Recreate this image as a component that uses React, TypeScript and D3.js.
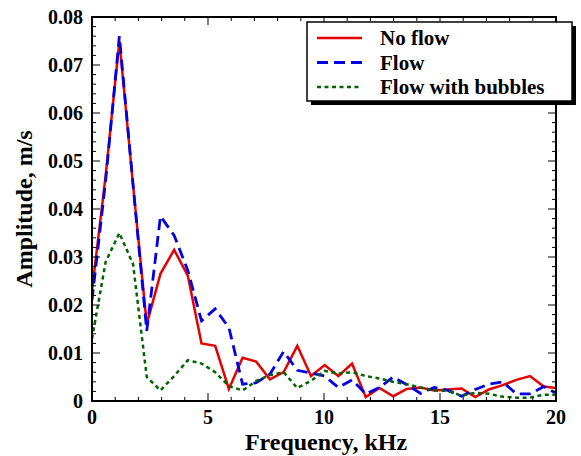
import React from "react";
import * as d3 from "d3";

const freqs = [0, 0.59, 1.18, 1.77, 2.36, 2.95, 3.54, 4.13, 4.72, 5.31, 5.9, 6.49, 7.08, 7.67, 8.26, 8.85, 9.44, 10.03, 10.62, 11.21, 11.8, 12.39, 12.98, 13.57, 14.16, 14.75, 15.34, 15.93, 16.52, 17.11, 17.7, 18.29, 18.88, 19.47, 20.06];
const noFlow = [0.023, 0.047, 0.075, 0.045, 0.016, 0.0265, 0.0315, 0.0261, 0.012, 0.0115, 0.0025, 0.009, 0.0082, 0.0045, 0.006, 0.0115, 0.0052, 0.0075, 0.0052, 0.0078, 0.0008, 0.0027, 0.001, 0.0025, 0.0028, 0.0022, 0.0024, 0.0026, 0.0008, 0.0024, 0.0033, 0.0044, 0.0052, 0.003, 0.0027];
const flow = [0.021, 0.046, 0.076, 0.045, 0.0146, 0.0385, 0.0345, 0.0272, 0.0167, 0.0192, 0.0153, 0.0035, 0.0038, 0.0056, 0.0103, 0.0064, 0.0058, 0.0052, 0.0028, 0.0044, 0.0015, 0.0028, 0.005, 0.0034, 0.0016, 0.0028, 0.0022, 0.001, 0.0024, 0.0035, 0.004, 0.0015, 0.0015, 0.003, 0.0015];
const bubbles = [0.013, 0.029, 0.035, 0.0285, 0.005, 0.0022, 0.0052, 0.0085, 0.0078, 0.006, 0.0031, 0.0022, 0.0042, 0.0054, 0.006, 0.0027, 0.0042, 0.0063, 0.0057, 0.006, 0.0052, 0.0047, 0.004, 0.0035, 0.0028, 0.0022, 0.0021, 0.0011, 0.0017, 0.0015, 0.0009, 0.0007, 0.0007, 0.0013, 0.0013];

const xTicks = [0, 5, 10, 15, 20];
const yTicks = [0, 0.01, 0.02, 0.03, 0.04, 0.05, 0.06, 0.07, 0.08];
const seriesNames = ["No flow", "Flow", "Flow with bubbles"];

const L = 92, R = 556, T = 17, B = 401;
const FONT = "'Liberation Serif', 'Times New Roman', serif";

export default function App() {
  const x = d3.scaleLinear().domain([0, 20]).range([L, R]);
  const y = d3.scaleLinear().domain([0, 0.08]).range([B, T]);
  const mk = (vals: number[]) =>
    d3.line<number>().x((_, i) => x(freqs[i])).y((v) => y(v))(vals) || "";

  const series = [
    { name: seriesNames[0], vals: noFlow, color: "#e60000", dash: "none", w: 2.5 },
    { name: seriesNames[1], vals: flow, color: "#0000e6", dash: "11 6", w: 2.8 },
    { name: seriesNames[2], vals: bubbles, color: "#006400", dash: "4 3.5", w: 2.5 },
  ];

  const xMinor = d3.range(0, 21, 1);
  const yMinor = d3.range(0, 0.0801, 0.002);

  return (
    <svg width={581} height={456} style={{ position: "absolute", left: 0, top: 0 }}>
      <rect width={581} height={456} fill="#fff" />
      <defs>
        <clipPath id="clip">
          <rect x={L} y={T} width={R - L} height={B - T} />
        </clipPath>
      </defs>
      <g clipPath="url(#clip)">
        {series.map((s) => (
          <path key={s.name} d={mk(s.vals)} fill="none" stroke={s.color} strokeWidth={s.w} strokeDasharray={s.dash} strokeLinejoin="miter" />
        ))}
      </g>
      <g stroke="#000" strokeWidth={1}>
        {xMinor.map((v) => {
          const len = v % 5 === 0 ? 8 : 4;
          return (
            <g key={"xt" + v}>
              <line x1={x(v)} x2={x(v)} y1={B} y2={B - len} />
              <line x1={x(v)} x2={x(v)} y1={T} y2={T + len} />
            </g>
          );
        })}
        {yMinor.map((v, i) => {
          const len = i % 5 === 0 ? 8 : 4;
          return (
            <g key={"yt" + i}>
              <line x1={L} x2={L + len} y1={y(v)} y2={y(v)} />
              <line x1={R} x2={R - len} y1={y(v)} y2={y(v)} />
            </g>
          );
        })}
      </g>
      <rect x={L} y={T} width={R - L} height={B - T} fill="none" stroke="#000" strokeWidth={2} />
      <g fontFamily={FONT} fontWeight="bold" fontSize={20} fill="#000">
        {xTicks.map((v) => (
          <text key={"xl" + v} x={x(v)} y={B + 23} textAnchor="middle">{v}</text>
        ))}
        {yTicks.map((v) => (
          <text key={"yl" + v} x={L - 9} y={y(v) + 6.5} textAnchor="end">{v === 0 ? "0" : v.toFixed(2)}</text>
        ))}
      </g>
      <text x={(L + R) / 2 + 2} y={450} textAnchor="middle" fontFamily={FONT} fontWeight="bold" fontSize={24}>Frequency, kHz</text>
      <text transform={`translate(32, ${(T + B) / 2}) rotate(-90)`} textAnchor="middle" fontFamily={FONT} fontWeight="bold" fontSize={24}>Amplitude, m/s</text>
      <rect x={311} y={26} width={265} height={79} fill="#000" />
      <rect x={307} y={22} width={265} height={79} fill="#fff" stroke="#000" strokeWidth={1.5} />
      {series.map((s, i) => (
        <g key={"lg" + i}>
          <line x1={317} x2={362} y1={38 + i * 24.5} y2={38 + i * 24.5} stroke={s.color} strokeWidth={s.w} strokeDasharray={s.dash} />
          <text x={380} y={45 + i * 24.5} fontFamily={FONT} fontWeight="bold" fontSize={21}>{s.name}</text>
        </g>
      ))}
    </svg>
  );
}
